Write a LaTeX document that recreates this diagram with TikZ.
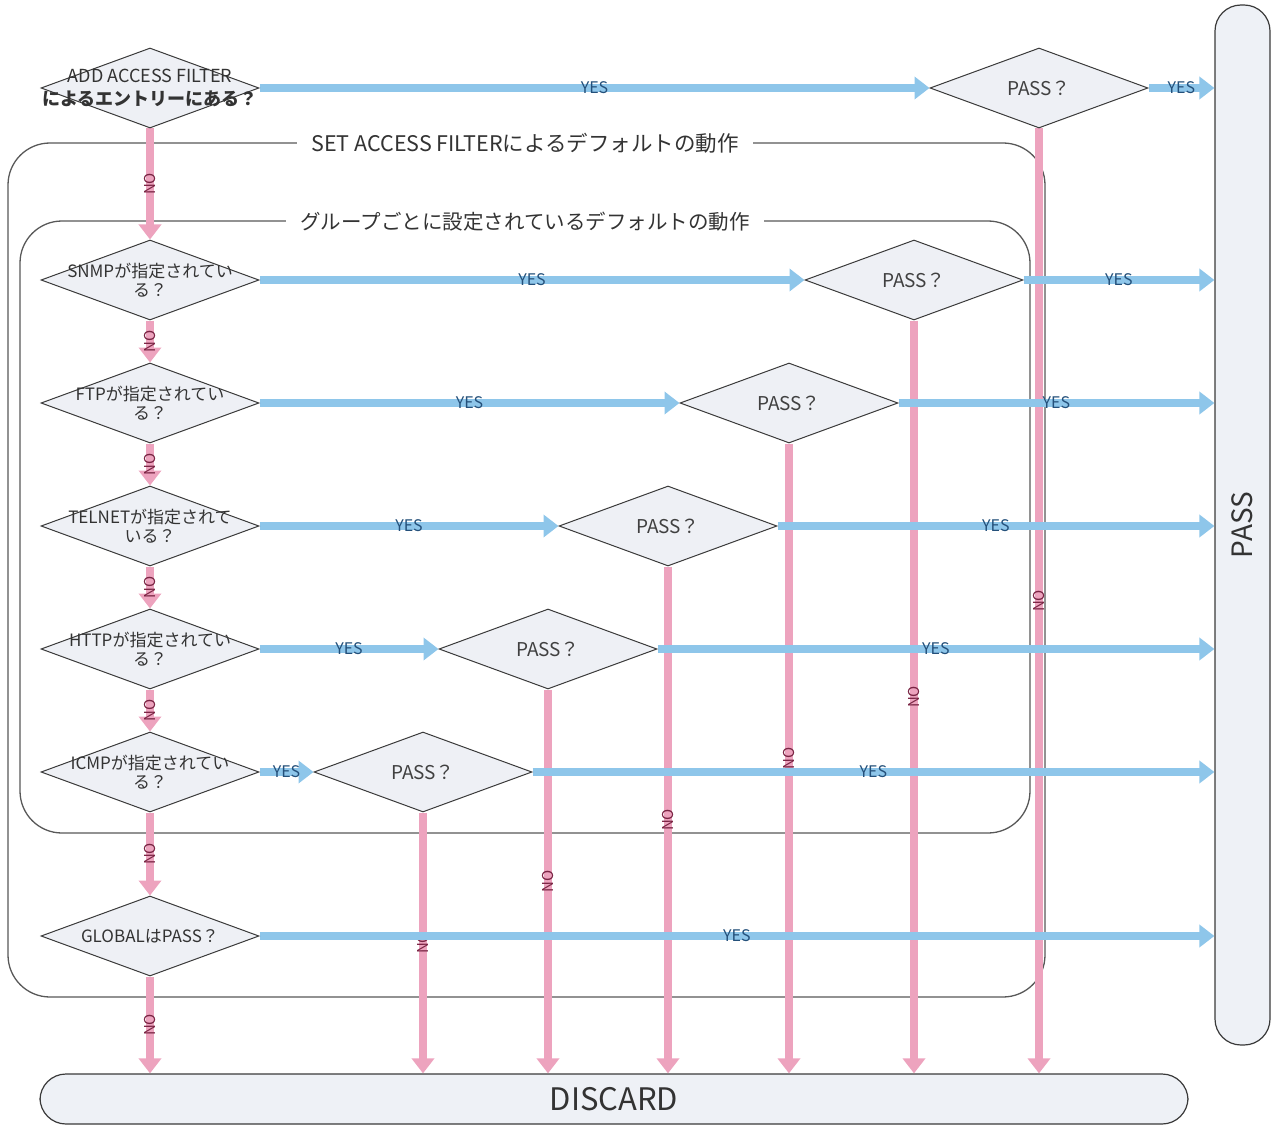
\documentclass[tikz,border=0pt]{standalone}
\usepackage{fontspec}
\setmainfont{Noto Sans CJK JP}
\usetikzlibrary{shapes.geometric,arrows.meta}
\definecolor{yesblue}{HTML}{8EC6EA}
\definecolor{nopink}{HTML}{EDA3BE}
\definecolor{diafill}{HTML}{EEF0F5}
\definecolor{barfill}{HTML}{EEF1F6}
\definecolor{yestext}{HTML}{24507A}
\definecolor{notext}{HTML}{7A2544}
\definecolor{edge}{HTML}{3A3A3A}
\tikzset{
  dia/.style={diamond, draw=edge, line width=1pt, fill=diafill, minimum width=218pt, minimum height=80pt, inner sep=0pt},
  dtext/.style={align=center, text=black!80, font=\fontsize{17}{19}\selectfont, inner sep=0pt},
  ptext/.style={text=black!75, font=\fontsize{19}{21}\selectfont, inner sep=0pt},
  yesarrow/.style={draw=yesblue, line width=8.5pt, -{Triangle[width=22pt,length=15pt]}},
  noarrow/.style={draw=nopink, line width=8.5pt, -{Triangle[width=22pt,length=15pt]}},
  yeslab/.style={text=yestext, font=\fontsize{16}{16}\selectfont, inner sep=0pt},
  nolab/.style={text=notext, font=\fontsize{15}{15}\selectfont, inner sep=0pt, rotate=90},
  grpbox/.style={draw=edge!85, line width=1.3pt, rounded corners=42pt},
  boxtitle/.style={fill=white, inner xsep=14pt, inner ysep=2pt, text=black!80},
  bar/.style={draw=edge, line width=1.2pt, fill=barfill, rounded corners=26pt, inner sep=0pt}
}
\begin{document}
\begin{tikzpicture}[x=1pt,y=-1pt]
\useasboundingbox (0,0) rectangle (1277,1126);
% group boxes
\draw[grpbox] (8,143) rectangle (1045,997);
\node[boxtitle, font=\fontsize{21.5}{23}\selectfont] (t1) at (525,143) {SET ACCESS FILTERによるデフォルトの動作};
\draw[grpbox] (20,221) rectangle (1030,833);
\node[boxtitle, font=\fontsize{20.5}{22}\selectfont] (t2) at (525,222) {グループごとに設定されているデフォルトの動作};
% terminal bars
\node[bar, minimum width=55pt, minimum height=1040pt] (pass) at (1242.5,525) {};
\node[rotate=90, text=black!80, font=\fontsize{28}{28}\selectfont] (passt) at (pass) {PASS};
\node[bar, minimum width=1148pt, minimum height=50pt] (discard) at (614,1099) {};
\node[text=black!80, font=\fontsize{31}{31}\selectfont] (discardt) at (discard) {DISCARD};
% placeholders giving anchors before drawing
\path (150,88) node[dia, draw=none, fill=none] (add) {};
\path (150,280) node[dia, draw=none, fill=none] (snmp) {};
\path (150,403) node[dia, draw=none, fill=none] (ftp) {};
\path (150,526) node[dia, draw=none, fill=none] (tel) {};
\path (150,649) node[dia, draw=none, fill=none] (http) {};
\path (150,772) node[dia, draw=none, fill=none] (icmp) {};
\path (150,936) node[dia, draw=none, fill=none] (glob) {};
\path (1039,88) node[dia, draw=none, fill=none] (p0) {};
\path (914,280) node[dia, draw=none, fill=none] (p1) {};
\path (789,403) node[dia, draw=none, fill=none] (p2) {};
\path (668,526) node[dia, draw=none, fill=none] (p3) {};
\path (548,649) node[dia, draw=none, fill=none] (p4) {};
\path (423,772) node[dia, draw=none, fill=none] (p5) {};
% NO arrows
\draw[noarrow] (add.south) -- (snmp.north) node[midway, nolab] {NO};
\draw[noarrow] (snmp.south) -- (ftp.north) node[midway, nolab] {NO};
\draw[noarrow] (ftp.south) -- (tel.north) node[midway, nolab] {NO};
\draw[noarrow] (tel.south) -- (http.north) node[midway, nolab] {NO};
\draw[noarrow] (http.south) -- (icmp.north) node[midway, nolab] {NO};
\draw[noarrow] (icmp.south) -- (glob.north) node[midway, nolab] {NO};
\draw[noarrow] (glob.south) -- (glob.south |- discard.north) node[midway, nolab] {NO};
\draw[noarrow] (p0.south) -- (p0.south |- discard.north) node[midway, nolab] {NO};
\draw[noarrow] (p1.south) -- (p1.south |- discard.north) node[midway, nolab] {NO};
\draw[noarrow] (p2.south) -- (p2.south |- discard.north) node[midway, nolab] {NO};
\draw[noarrow] (p3.south) -- (p3.south |- discard.north) node[midway, nolab] {NO};
\draw[noarrow] (p4.south) -- (p4.south |- discard.north) node[midway, nolab] {NO};
\draw[noarrow] (p5.south) -- (p5.south |- discard.north) node[midway, nolab] {NO};
% YES arrows
\draw[yesarrow] (add.east) -- (p0.west) node[midway, yeslab] {YES};
\draw[yesarrow] (p0.east) -- (p0.east -| pass.west) node[midway, yeslab] {YES};
\draw[yesarrow] (snmp.east) -- (p1.west) node[midway, yeslab] {YES};
\draw[yesarrow] (p1.east) -- (p1.east -| pass.west) node[midway, yeslab] {YES};
\draw[yesarrow] (ftp.east) -- (p2.west) node[midway, yeslab] {YES};
\draw[yesarrow] (p2.east) -- (p2.east -| pass.west) node[midway, yeslab] {YES};
\draw[yesarrow] (tel.east) -- (p3.west) node[midway, yeslab] {YES};
\draw[yesarrow] (p3.east) -- (p3.east -| pass.west) node[midway, yeslab] {YES};
\draw[yesarrow] (http.east) -- (p4.west) node[midway, yeslab] {YES};
\draw[yesarrow] (p4.east) -- (p4.east -| pass.west) node[midway, yeslab] {YES};
\draw[yesarrow] (icmp.east) -- (p5.west) node[midway, yeslab] {YES};
\draw[yesarrow] (p5.east) -- (p5.east -| pass.west) node[midway, yeslab] {YES};
\draw[yesarrow] (glob.east) -- (glob.east -| pass.west) node[midway, yeslab] {YES};
% visible diamonds
\node[dia] (addv) at (add) {};
\node[dtext, font=\fontsize{18}{23}\selectfont] (addt) at (add) {ADD ACCESS FILTER\\\bfseries によるエントリーにある？};
\node[dia] (snmpv) at (snmp) {};
\node[dtext] (snmpt) at (snmp) {SNMPが指定されてい\\る？};
\node[dia] (ftpv) at (ftp) {};
\node[dtext] (ftpt) at (ftp) {FTPが指定されてい\\る？};
\node[dia] (telv) at (tel) {};
\node[dtext] (telt) at (tel) {TELNETが指定されて\\いる？};
\node[dia] (httpv) at (http) {};
\node[dtext] (httpt) at (http) {HTTPが指定されてい\\る？};
\node[dia] (icmpv) at (icmp) {};
\node[dtext] (icmpt) at (icmp) {ICMPが指定されてい\\る？};
\node[dia] (globv) at (glob) {};
\node[dtext] (globt) at (glob) {GLOBALはPASS？};
\foreach \p in {p0,p1,p2,p3,p4,p5}{
  \node[dia] (\p v) at (\p) {};
  \node[ptext] (\p t) at (\p) {PASS？};
}
\end{tikzpicture}
\end{document}
